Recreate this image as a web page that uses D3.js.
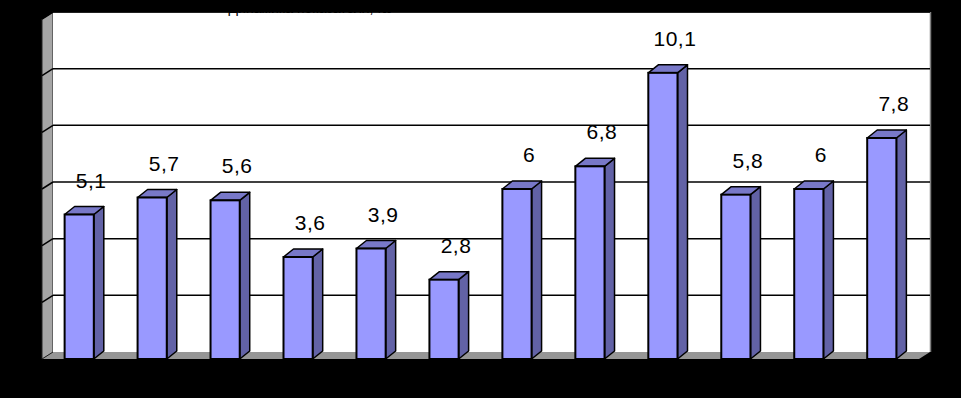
<!DOCTYPE html>
<html><head><meta charset="utf-8">
<script src="https://cdn.jsdelivr.net/npm/d3@7"></script>
<style>html,body{margin:0;padding:0;background:#000;}svg{display:block;}</style>
</head><body>
<svg id="chart" width="961" height="398"></svg>
<script>
const categories = ["1","2","3","4","5","6","7","8","9","10","11","12"];
const values = [5.1, 5.7, 5.6, 3.6, 3.9, 2.8, 6, 6.8, 10.1, 5.8, 6, 7.8];
const labels = ["5,1","5,7","5,6","3,6","3,9","2,8","6","6,8","10,1","5,8","6","7,8"];
const yTicks = [0, 2, 4, 6, 8, 10, 12];
const titleText = "Динамика показателя, ‰";

const svg = d3.select("#chart");
const W = 961, H = 398;
const left = 42, right = 919, bottom = 359;
const dx = 11, dy = -7;       // wall depth
const bdx = 10, bdy = -8;     // bar depth

const y = d3.scaleLinear().domain([0, 12]).range([bottom, 19]);
const x = d3.scaleBand().domain(categories).range([left, right]).paddingInner(0.6).paddingOuter(0.31);

svg.append("rect").attr("width", W).attr("height", H).attr("fill", "#000");

// floor
svg.append("polygon")
  .attr("points", [[left, bottom], [right, bottom], [right + dx, bottom + dy], [left + dx, bottom + dy]].join(" "))
  .attr("fill", "#969696");
// left side wall
svg.append("polygon")
  .attr("points", [[left, bottom], [left, y(12)], [left + dx, y(12) + dy], [left + dx, bottom + dy]].join(" "))
  .attr("fill", "#a6a6a6").attr("stroke", "#222").attr("stroke-width", 1);
// back wall
svg.append("rect")
  .attr("x", left + dx).attr("y", y(12) + dy)
  .attr("width", right - left).attr("height", y(0) - y(12))
  .attr("fill", "#fff");
svg.append("line")
  .attr("x1", left + dx).attr("x2", right + dx)
  .attr("y1", y(12) + dy + 0.5).attr("y2", y(12) + dy + 0.5)
  .attr("stroke", "#808080").attr("stroke-width", 1);
svg.append("line")
  .attr("x1", right + dx + 0.5).attr("x2", right + dx + 0.5)
  .attr("y1", y(12) + dy).attr("y2", bottom + dy)
  .attr("stroke", "#808080").attr("stroke-width", 1.5);

// title (mostly hidden, black on black)
svg.append("text")
  .attr("x", 310).attr("y", 13)
  .attr("text-anchor", "middle")
  .attr("font-family", "Liberation Sans, Arial, sans-serif")
  .attr("font-size", 14)
  .attr("fill", "#000")
  .text(titleText);

// gridlines (back + side wall)
const grid = svg.append("g");
yTicks.filter(t => t > 0).forEach(t => {
  const yb = y(t) + dy;
  grid.append("line")
    .attr("x1", left + dx).attr("x2", right + dx)
    .attr("y1", yb).attr("y2", yb)
    .attr("stroke", "#000").attr("stroke-width", 1.5);
  grid.append("line")
    .attr("x1", left).attr("x2", left + dx)
    .attr("y1", y(t)).attr("y2", yb)
    .attr("stroke", "#000").attr("stroke-width", 1.5);
});

// bars
const bars = svg.append("g").selectAll("g").data(values).join("g");
const bw = x.bandwidth();
bars.each(function (v, i) {
  const g = d3.select(this);
  const x0 = x(categories[i]), x1 = x0 + bw, yt = y(v), yb = y(0);
  g.append("polygon")
    .attr("points", [[x1, yt], [x1 + bdx, yt + bdy], [x1 + bdx, yb + bdy], [x1, yb]].join(" "))
    .attr("fill", "#6262a6").attr("stroke", "#000").attr("stroke-width", 1.5).attr("stroke-linejoin", "round");
  g.append("polygon")
    .attr("points", [[x0, yt], [x0 + bdx, yt + bdy], [x1 + bdx, yt + bdy], [x1, yt]].join(" "))
    .attr("fill", "#7878c8").attr("stroke", "#000").attr("stroke-width", 1.5).attr("stroke-linejoin", "round");
  g.append("rect")
    .attr("x", x0).attr("y", yt).attr("width", bw).attr("height", yb - yt)
    .attr("fill", "#9999ff").attr("stroke", "#000").attr("stroke-width", 2);
});

// value labels
svg.append("g").selectAll("text").data(values).join("text")
  .attr("x", (d, i) => x(categories[i]) + bw / 2 + 12)
  .attr("y", d => y(d) + bdy - 19)
  .attr("text-anchor", "middle")
  .attr("font-family", "Liberation Sans, Arial, sans-serif")
  .attr("font-size", 21)
  .attr("letter-spacing", 0.5)
  .attr("fill", "#000")
  .text((d, i) => labels[i]);
</script>
</body></html>
